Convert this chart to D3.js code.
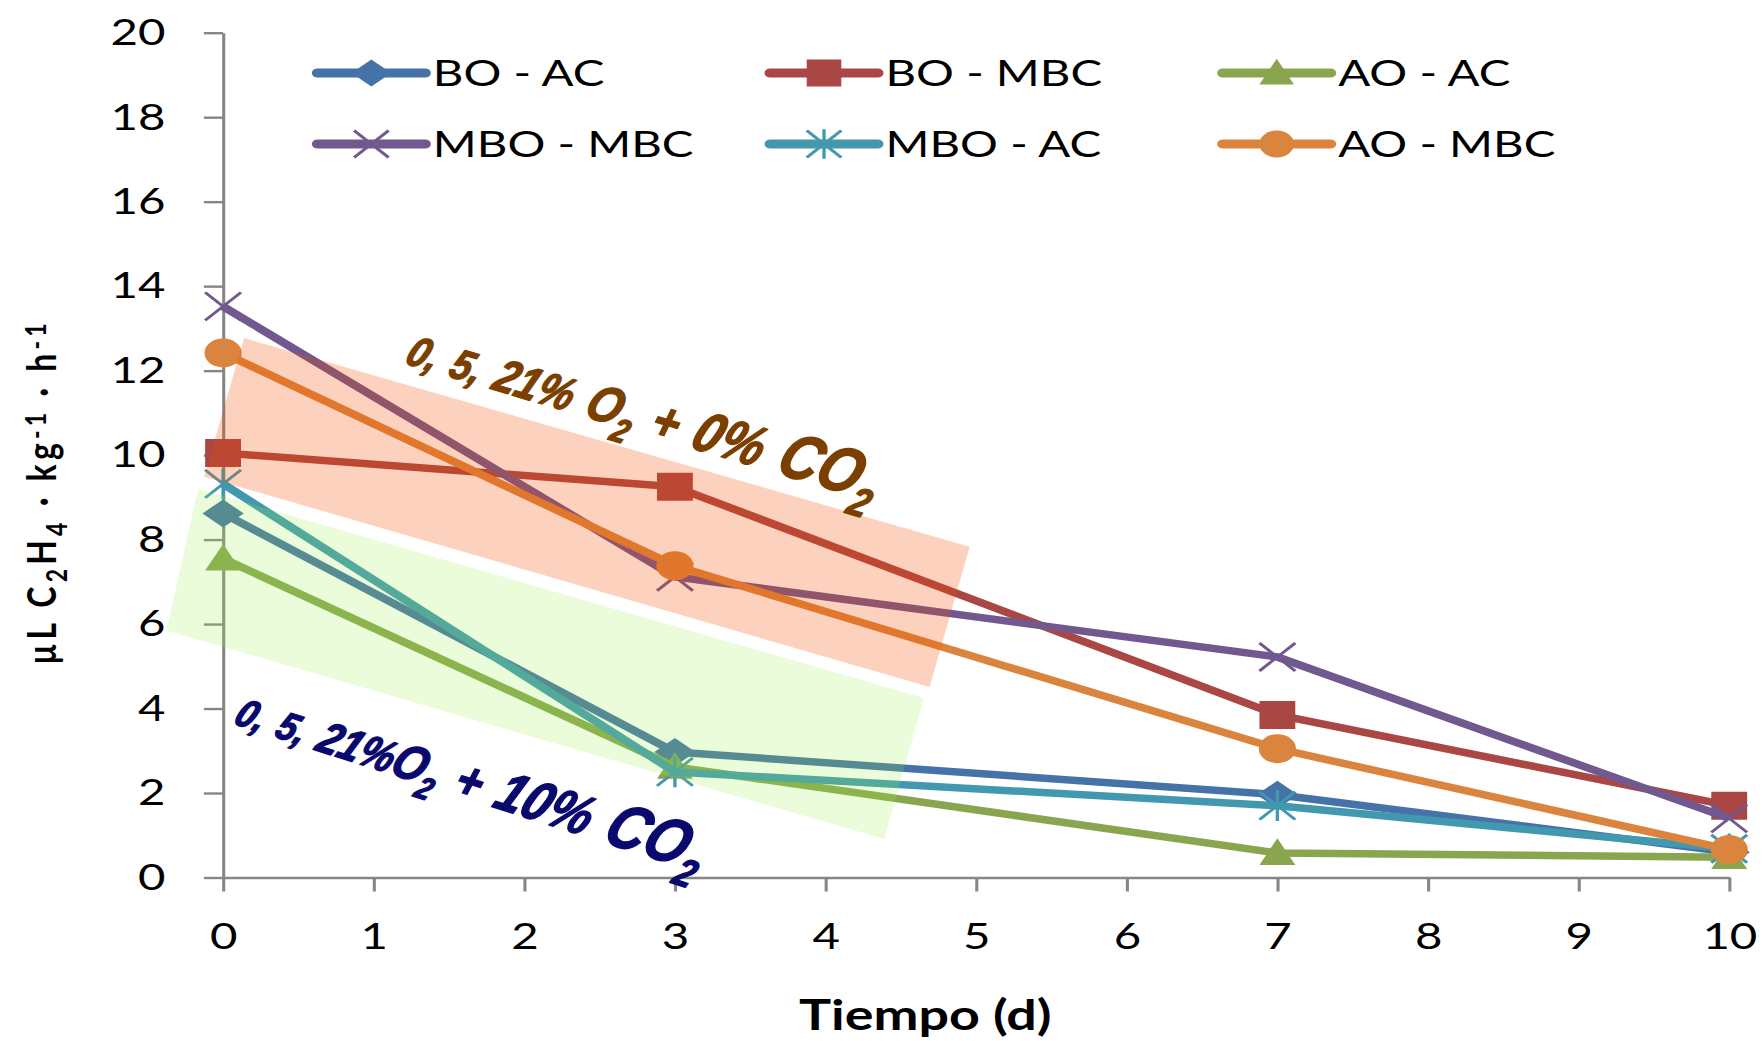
<!DOCTYPE html>
<html lang="es">
<head>
<meta charset="UTF-8">
<title>Etileno - Tiempo</title>
<script src="https://d3js.org/d3.v7.min.js"></script>
<style>
  html, body { margin: 0; padding: 0; background: #fff; }
  svg { display: block; }
  .axis path, .axis line { stroke: #868686; stroke-width: 2.4; }
  .axis text { font-family: Lato, sans-serif; font-size: 37px; fill: #000; }
  .legend text { font-family: Lato, sans-serif; font-size: 37px; fill: #000; }
  .title { font-family: Lato, sans-serif; font-weight: bold; fill: #000; }
  .note { font-family: "Liberation Sans", Arial, sans-serif; font-weight: bold; font-style: italic; }
</style>
</head>
<body>
<svg id="chart" width="1762" height="1041"></svg>
<script>
// data
const days = [0, 3, 7, 10];
const boAC   = [8.62, 2.97, 1.96, 0.60];
const boMBC  = [10.05, 9.25, 3.85, 1.70];
const aoAC   = [7.55, 2.62, 0.58, 0.48];
const mboMBC = [13.52, 7.12, 5.22, 1.40];
const mboAC  = [9.32, 2.50, 1.70, 0.68];
const aoMBC  = [12.42, 7.38, 3.05, 0.66];

const seriesNames   = ["BO - AC", "BO - MBC", "AO - AC", "MBO - MBC", "MBO - AC", "AO - MBC"];
const seriesValues  = [boAC, boMBC, aoAC, mboMBC, mboAC, aoMBC];
const seriesColors  = ["#4572A7", "#AA4643", "#89A54E", "#71588F", "#4198AF", "#DB843D"];
const seriesMarkers = ["diamond", "square", "triangle", "cross", "star", "circle"];

const xTicks = d3.range(0, 11);
const yTicks = d3.range(0, 21, 2);

// shaded bands (corners in data units)
const band0CO2  = [[0.14, 12.77], [4.957, 7.83], [4.691, 4.51], [-0.126, 9.49]];
const band10CO2 = [[-0.166, 9.20], [4.654, 4.25], [4.389, 0.91], [-0.375, 5.85]];

// the original picture is stretched sideways, so draw in a narrower box and let the viewBox stretch it
const W = 1376, H = 1041;
const svg = d3.select("#chart")
  .attr("viewBox", `0 0 ${W} ${H}`)
  .attr("preserveAspectRatio", "none");

svg.append("rect").attr("width", W).attr("height", H).attr("fill", "#fff");

const x = d3.scaleLinear().domain([0, 10]).range([174.2, 1350.4]);
const y = d3.scaleLinear().domain([0, 20]).range([877.5, 32.7]);

svg.append("g")
  .attr("class", "axis")
  .attr("transform", `translate(0,${y(0)})`)
  .call(d3.axisBottom(x).tickValues(xTicks).tickFormat(d3.format("d")).tickSize(14).tickSizeOuter(0).tickPadding(31));

svg.append("g")
  .attr("class", "axis")
  .attr("transform", `translate(${x(0)},0)`)
  .call(d3.axisLeft(y).tickValues(yTicks).tickFormat(d3.format("d")).tickSize(15).tickSizeOuter(0).tickPadding(30));

function markerPath(type, s) {
  switch (type) {
    case "diamond":  return `M0,${-s}L${s * 1.15},0L0,${s}L${-s * 1.15},0Z`;
    case "square":   return `M${-s},${-s}H${s}V${s}H${-s}Z`;
    case "triangle": return `M0,${-s * 1.05}L${s},${s * 0.85}H${-s}Z`;
    case "cross":    return `M${-s},${-s}L${s},${s}M${-s},${s}L${s},${-s}`;
    case "star":     return `M${-s},${-s}L${s},${s}M${-s},${s}L${s},${-s}M0,${-s * 1.1}V${s * 1.1}`;
    default:         return d3.symbol(d3.symbolCircle, Math.PI * s * s)();
  }
}
const lineMarker = t => t === "cross" || t === "star";

const line = d3.line().x(d => x(d[0])).y(d => y(d[1]));

seriesValues.forEach((vals, i) => {
  const pts = days.map((d, j) => [d, vals[j]]);
  const g = svg.append("g");
  g.append("path")
    .attr("d", line(pts))
    .attr("fill", "none")
    .attr("stroke", seriesColors[i])
    .attr("stroke-width", 7.5)
    .attr("stroke-linejoin", "round");
  const sz = seriesMarkers[i] === "circle" ? 14.5 : 14;
  g.selectAll(".m")
    .data(pts)
    .join("path")
    .attr("transform", d => `translate(${x(d[0])},${y(d[1])})`)
    .attr("d", markerPath(seriesMarkers[i], sz))
    .attr("fill", lineMarker(seriesMarkers[i]) ? "none" : seriesColors[i])
    .attr("stroke", seriesColors[i])
    .attr("stroke-width", lineMarker(seriesMarkers[i]) ? 2.6 : 0);
});

// translucent bands over the lines
const area = d3.line().x(d => x(d[0])).y(d => y(d[1])).curve(d3.curveLinearClosed);
svg.append("path").attr("d", area(band0CO2)).attr("fill", "rgb(243,75,0)").attr("fill-opacity", 0.25);
svg.append("path").attr("d", area(band10CO2)).attr("fill", "rgb(155,240,70)").attr("fill-opacity", 0.2);

// annotations: letters grow along the line like the original word-art
function note(pos, angle, squeeze, color, parts) {
  const t = svg.append("text")
    .attr("class", "note")
    .attr("fill", color)
    .attr("stroke", color)
    .attr("stroke-width", 1.4)
    .attr("stroke-linejoin", "round")
    .attr("word-spacing", 5)
    .attr("transform", `translate(${x(pos[0])},${y(pos[1])}) rotate(${angle}) scale(${squeeze},1)`);
  let shifted = 0;
  parts.forEach(p => {
    const sp = t.append("tspan").attr("font-size", p[1]).text(p[0]);
    const want = p[2] ? p[1] * 0.45 : 0;
    if (want !== shifted) { sp.attr("dy", want - shifted); shifted = want; }
  });
}
note([1.196, 12.18], 20.7, 0.7, "#7B3F00", [
  ["0, 5, ", 42], ["21% ", 46], ["O", 50], ["2", 33, true], [" + ", 52], ["0% ", 56], ["CO", 63], ["2", 40, true]
]);
note([0.06, 3.65], 22.3, 0.71, "#0A0A6E", [
  ["0, 5, ", 39], ["21%", 44], ["O", 48], ["2", 31, true], [" + ", 51], ["10% ", 55], ["CO", 62], ["2", 39, true]
]);

// legend
const legend = svg.append("g").attr("class", "legend");
seriesNames.forEach((name, i) => {
  const gx = 248 + (i % 3) * 353.5, gy = i < 3 ? 73 : 144;
  const g = legend.append("g").attr("transform", `translate(${gx},${gy})`);
  g.append("line")
    .attr("x1", 0).attr("x2", 84)
    .attr("stroke", seriesColors[i]).attr("stroke-width", 9).attr("stroke-linecap", "round");
  g.append("path")
    .attr("transform", "translate(42,0)")
    .attr("d", markerPath(seriesMarkers[i], 13.5))
    .attr("fill", lineMarker(seriesMarkers[i]) ? "none" : seriesColors[i])
    .attr("stroke", seriesColors[i])
    .attr("stroke-width", lineMarker(seriesMarkers[i]) ? 2.6 : 0);
  g.append("text").attr("x", 90).attr("dy", "0.35em").text(name);
});

// axis titles
svg.append("text")
  .attr("class", "title")
  .attr("x", 722.6).attr("y", 1030)
  .attr("text-anchor", "middle")
  .attr("font-size", 42)
  .text("Tiempo (d)");

const yt = svg.append("text")
  .attr("class", "title")
  .attr("transform", "translate(44,492) rotate(-90)")
  .attr("text-anchor", "middle")
  .attr("letter-spacing", 4.2)
  .attr("font-size", 32);
[["µL C", 0], ["2", 1], ["H", 0], ["4", 1], [" · kg", 0], ["-1", -1], [" · h", 0], ["-1", -1]].reduce((prev, p) => {
  const shift = p[1] * 8;
  yt.append("tspan")
    .attr("font-size", p[1] ? 23 : 32)
    .attr("dy", shift - prev)
    .text(p[0]);
  return shift;
}, 0);
</script>
</body>
</html>
